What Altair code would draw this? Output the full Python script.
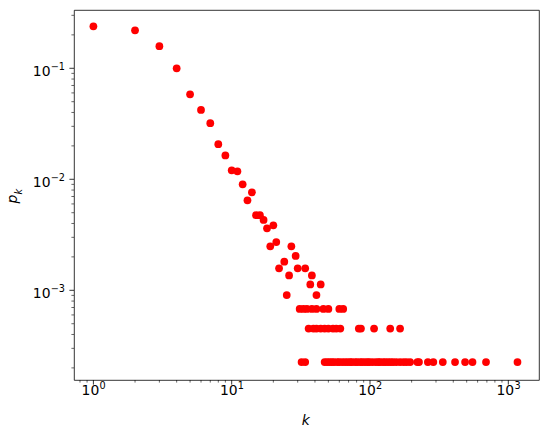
import altair as alt
import pandas as pd

# ---- data (degree k, probability p_k) ----
head_k = [1, 2, 3, 4, 5, 6, 7, 8, 9, 10, 11, 12, 13, 14, 15, 16, 17, 18, 19, 20,
          21, 22, 24, 25, 26, 27, 29, 30, 34, 37, 38, 41, 44]
head_p = [0.239, 0.220, 0.158, 0.100, 0.0583, 0.0421, 0.0320, 0.0207, 0.0164, 0.01205,
          0.0118, 0.00902, 0.00647, 0.00764, 0.00475, 0.00475, 0.0043, 0.00362, 0.00249, 0.00385,
          0.00272, 0.00158, 0.00181, 0.000905, 0.00136, 0.00249, 0.00204, 0.00158, 0.00158, 0.00113,
          0.00136, 0.000905, 0.00113]

row3_p = 0.000679
row3_k = [31, 33, 35, 38, 41, 46, 50, 60, 64]

row2_p = 0.000452
row2_k = [36, 39, 41, 44, 47, 50, 54, 57, 61, 83, 86, 107, 140, 165]

row1_p = 0.000226
row1_k = [32, 34, 47, 49, 51, 53, 55, 58, 60, 63, 66, 69, 72, 74, 78, 81, 85, 88, 92, 96,
          99, 104, 110, 115, 118, 124, 129, 135, 141, 147, 155, 165, 175, 184, 195, 220,
          226, 262, 287, 336, 412, 487, 551, 690, 1165]

x_major = [1, 10, 100, 1000]
x_major_base = ["10", "10", "10", "10"]
x_major_exp = ["0", "1", "2", "3"]
x_minor = [0.8, 0.9, 2, 3, 4, 5, 6, 7, 8, 9, 20, 30, 40, 50, 60, 70, 80, 90,
           200, 300, 400, 500, 600, 700, 800, 900]
y_major = [0.1, 0.01, 0.001]
y_major_base = ["10", "10", "10"]
y_major_exp = ["−1", "−2", "−3"]
y_minor = [0.0002, 0.0003, 0.0004, 0.0005, 0.0006, 0.0007, 0.0008, 0.0009,
           0.002, 0.003, 0.004, 0.005, 0.006, 0.007, 0.008, 0.009,
           0.02, 0.03, 0.04, 0.05, 0.06, 0.07, 0.08, 0.09, 0.2, 0.3]

ks = head_k + row3_k + row2_k + row1_k
ps = head_p + [row3_p] * len(row3_k) + [row2_p] * len(row2_k) + [row1_p] * len(row1_k)
df = pd.DataFrame({"k": ks, "p": ps})

W, H = 465, 370
FONT = "DejaVu Sans"
FS = 13.9
FS_SUP = 9.7

xscale = alt.Scale(type="log", domain=[0.724, 1667], nice=False)
yscale = alt.Scale(type="log", domain=[1.556e-4, 0.335], nice=False)

points = alt.Chart(df).mark_circle(size=60, color="#ff0000", opacity=1).encode(
    x=alt.X("k:Q", scale=xscale, axis=None),
    y=alt.Y("p:Q", scale=yscale, axis=None),
)

xmaj_df = pd.DataFrame({"k": x_major, "base": x_major_base, "exp": x_major_exp})
ymaj_df = pd.DataFrame({"p": y_major, "base": y_major_base, "exp": y_major_exp})

xmajor_ticks = alt.Chart(xmaj_df).mark_rule(color="black", strokeWidth=0.8).encode(
    x=alt.X("k:Q", scale=xscale, axis=None),
    y=alt.value(H), y2=alt.value(H + 4.6),
)
xminor_ticks = alt.Chart(pd.DataFrame({"k": x_minor})).mark_rule(color="black", strokeWidth=0.6).encode(
    x=alt.X("k:Q", scale=xscale, axis=None),
    y=alt.value(H), y2=alt.value(H + 2.6),
)
xlabels_base = alt.Chart(xmaj_df).mark_text(
    font=FONT, fontSize=FS, align="right", baseline="alphabetic", color="black", dx=5.9
).encode(x=alt.X("k:Q", scale=xscale, axis=None), y=alt.value(H + 14.5), text="base:N")
xlabels_exp = alt.Chart(xmaj_df).mark_text(
    font=FONT, fontSize=FS_SUP, align="left", baseline="alphabetic", color="black", dx=6.1
).encode(x=alt.X("k:Q", scale=xscale, axis=None), y=alt.value(H + 8.6), text="exp:N")

ymajor_ticks = alt.Chart(ymaj_df).mark_rule(color="black", strokeWidth=0.8).encode(
    y=alt.Y("p:Q", scale=yscale, axis=None),
    x=alt.value(0), x2=alt.value(-4.6),
)
yminor_ticks = alt.Chart(pd.DataFrame({"p": y_minor})).mark_rule(color="black", strokeWidth=0.6).encode(
    y=alt.Y("p:Q", scale=yscale, axis=None),
    x=alt.value(0), x2=alt.value(-2.6),
)
ylabels_base = alt.Chart(ymaj_df).mark_text(
    font=FONT, fontSize=FS, align="right", baseline="alphabetic", color="black", dy=7.7
).encode(y=alt.Y("p:Q", scale=yscale, axis=None), x=alt.value(-23.5), text="base:N")
ylabels_exp = alt.Chart(ymaj_df).mark_text(
    font=FONT, fontSize=FS_SUP, align="right", baseline="alphabetic", color="black", dy=1.8
).encode(y=alt.Y("p:Q", scale=yscale, axis=None), x=alt.value(-9), text="exp:N")

xtitle = alt.Chart(pd.DataFrame({"t": ["k"]})).mark_text(
    font=FONT, fontSize=FS, fontStyle="italic", align="center", baseline="alphabetic", color="black"
).encode(x=alt.value(231.8), y=alt.value(415), text="t:N")

ytitle_p = alt.Chart(pd.DataFrame({"t": ["p"]})).mark_text(
    font=FONT, fontSize=FS, fontStyle="italic", align="center", baseline="alphabetic",
    angle=270, color="black"
).encode(x=alt.value(-56.7), y=alt.value(189.2), text="t:N")

ytitle_k = alt.Chart(pd.DataFrame({"t": ["k"]})).mark_text(
    font=FONT, fontSize=FS_SUP, fontStyle="italic", align="center", baseline="alphabetic",
    angle=270, color="black"
).encode(x=alt.value(-52.5), y=alt.value(181.7), text="t:N")

chart = alt.layer(
    points, xmajor_ticks, xminor_ticks, xlabels_base, xlabels_exp,
    ymajor_ticks, yminor_ticks, ylabels_base, ylabels_exp,
    xtitle, ytitle_p, ytitle_k,
).properties(
    width=W, height=H,
    autosize=alt.AutoSizeParams(type="none"),
    padding={"left": 74, "top": 10, "right": 9, "bottom": 58},
    background="white",
).configure_view(stroke="black", strokeWidth=0.8)

chart.save("out.html", embed_options={"renderer": "svg", "actions": False})
